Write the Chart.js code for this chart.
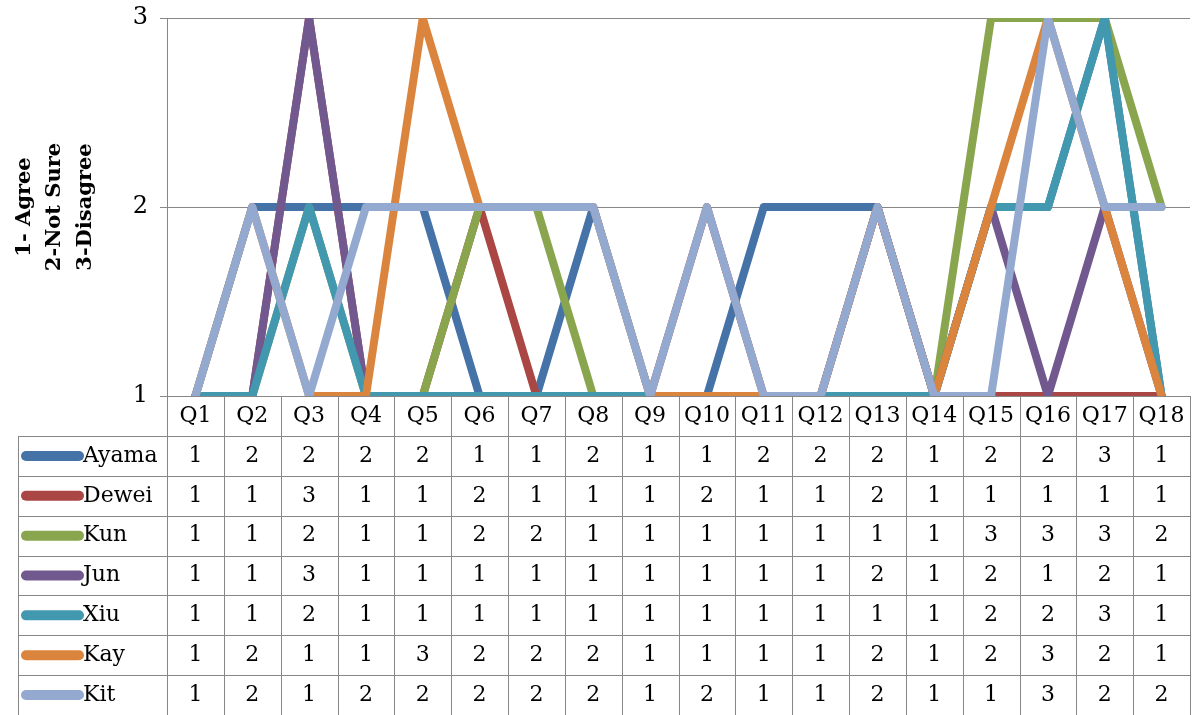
<!DOCTYPE html>
<html>
<head>
<meta charset="utf-8">
<script src="https://cdn.jsdelivr.net/npm/chart.js@4.4.1/dist/chart.umd.min.js"></script>
<style>
  html, body { margin: 0; padding: 0; background: #fff; }
</style>
</head>
<body>
<canvas id="surveyChart" width="1192" height="715"></canvas>
<script>
// 질문 (x축)
const questions = ['Q1', 'Q2', 'Q3', 'Q4', 'Q5', 'Q6', 'Q7', 'Q8', 'Q9',
  'Q10', 'Q11', 'Q12', 'Q13', 'Q14', 'Q15', 'Q16', 'Q17', 'Q18'];

// 응답 데이터
const ayama = [1, 2, 2, 2, 2, 1, 1, 2, 1, 1, 2, 2, 2, 1, 2, 2, 3, 1];
const dewei = [1, 1, 3, 1, 1, 2, 1, 1, 1, 2, 1, 1, 2, 1, 1, 1, 1, 1];
const kun   = [1, 1, 2, 1, 1, 2, 2, 1, 1, 1, 1, 1, 1, 1, 3, 3, 3, 2];
const jun   = [1, 1, 3, 1, 1, 1, 1, 1, 1, 1, 1, 1, 2, 1, 2, 1, 2, 1];
const xiu   = [1, 1, 2, 1, 1, 1, 1, 1, 1, 1, 1, 1, 1, 1, 2, 2, 3, 1];
const kay   = [1, 2, 1, 1, 3, 2, 2, 2, 1, 1, 1, 1, 2, 1, 2, 3, 2, 1];
const kit   = [1, 2, 1, 2, 2, 2, 2, 2, 1, 2, 1, 1, 2, 1, 1, 3, 2, 2];

const names = ['Ayama', 'Dewei', 'Kun', 'Jun', 'Xiu', 'Kay', 'Kit'];
const series = [ayama, dewei, kun, jun, xiu, kay, kit];
const colors = ['#4572A7', '#AA4643', '#89A54E', '#71588F', '#4198AF', '#DB843D', '#93A9CF'];

// y축 눈금 / 제목
const yTicks = [1, 2, 3];
const yTitle = ['1- Agree', '2-Not Sure', '3-Disagree'];

const serif = "'DejaVu Serif', serif";
const gridColor = '#878787';

// 아래쪽 데이터 표 그리기
const tablePlugin = {
  id: 'dataTable',
  afterDraw(chart) {
    const ctx = chart.ctx;
    const area = chart.chartArea;
    const xs = chart.scales.x;
    const colW = xs.getPixelForValue(1) - xs.getPixelForValue(0);
    const top = area.bottom;
    const headBottom = top + 40;
    const rowH = (chart.height - headBottom) / series.length;
    const tableLeft = 18;

    ctx.save();
    ctx.strokeStyle = gridColor;
    ctx.lineWidth = 1;
    ctx.beginPath();
    for (let i = 0; i <= questions.length; i++) {
      const px = Math.round(area.left + i * colW) + 0.5;
      ctx.moveTo(px, top);
      ctx.lineTo(px, chart.height);
    }
    ctx.moveTo(tableLeft + 0.5, headBottom);
    ctx.lineTo(tableLeft + 0.5, chart.height);
    for (let r = 0; r < series.length; r++) {
      const py = Math.round(headBottom + r * rowH) + 0.5;
      ctx.moveTo(tableLeft, py);
      ctx.lineTo(area.right, py);
    }
    ctx.stroke();

    ctx.font = '22px ' + serif;
    ctx.textBaseline = 'middle';
    series.forEach((vals, r) => {
      const cy = headBottom + r * rowH + rowH / 2;
      // 범례 선
      ctx.strokeStyle = colors[r];
      ctx.lineWidth = 10;
      ctx.lineCap = 'round';
      ctx.beginPath();
      ctx.moveTo(26, cy);
      ctx.lineTo(79, cy);
      ctx.stroke();
      ctx.fillStyle = '#000';
      ctx.textAlign = 'left';
      ctx.fillText(names[r], 83, cy);
      ctx.textAlign = 'center';
      vals.forEach((v, i) => {
        ctx.fillText(String(v), xs.getPixelForValue(i), cy);
      });
    });
    ctx.restore();
  }
};

const ctx = document.getElementById('surveyChart').getContext('2d');
const surveyChart = new Chart(ctx, {
  type: 'line',
  data: {
    labels: questions,
    datasets: series.map((vals, i) => ({
      label: names[i],
      data: vals,
      borderColor: colors[i],
      backgroundColor: colors[i],
      borderWidth: 8,
      borderJoinStyle: 'round',
      borderCapStyle: 'round',
      pointRadius: 0,
      tension: 0,
      fill: false,
      order: series.length - i, // 마지막 시리즈가 위로
    })),
  },
  options: {
    responsive: false,
    devicePixelRatio: 1,
    animation: false,
    layout: { padding: { top: 18, right: 2, bottom: 279, left: 0 } },
    plugins: {
      legend: { display: false },
      tooltip: { enabled: false },
    },
    scales: {
      x: {
        offset: true,
        grid: { display: false, drawTicks: false },
        border: { display: true, color: gridColor, width: 1 },
        ticks: {
          color: '#000',
          font: { family: serif, size: 22 },
          padding: 7,
          autoSkip: false,
          maxRotation: 0,
        },
        afterFit(scale) { scale.height = 40; },
      },
      y: {
        min: 1,
        max: 3,
        afterBuildTicks(scale) { scale.ticks = yTicks.map(v => ({ value: v })); },
        grid: { color: gridColor, lineWidth: 1, tickLength: 7 },
        border: { display: true, color: gridColor, width: 1 },
        ticks: {
          color: '#000',
          font: { family: serif, size: 24, lineHeight: 0.5 },
          padding: 12,
        },
        title: {
          display: true,
          text: yTitle,
          color: '#000',
          font: { family: serif, size: 21, weight: 'bold', lineHeight: 1.45 },
          padding: { top: 9, bottom: 0 },
        },
        afterFit(scale) { scale.width = 167; },
      },
    },
  },
  plugins: [tablePlugin],
});
</script>
</body>
</html>
